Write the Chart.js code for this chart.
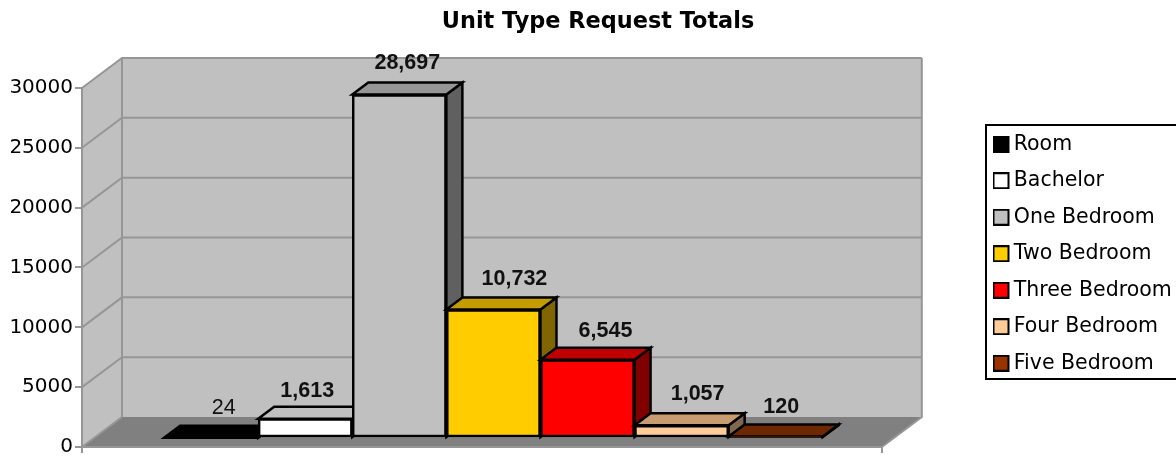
<!DOCTYPE html>
<html><head><meta charset="utf-8">
<style>html,body{margin:0;padding:0;background:#fff;overflow:hidden}canvas{display:block}</style>
<script src="https://cdn.jsdelivr.net/npm/chart.js@4"></script></head>
<body><canvas id="c" width="1176" height="458"></canvas>
<script>
const seriesNames = ["Room","Bachelor","One Bedroom","Two Bedroom","Three Bedroom","Four Bedroom","Five Bedroom"];
const seriesSlots = [0,1,2,3,4,5,6];
const seriesValues = [24,1613,28697,10732,6545,1057,120];
const seriesLabels = ["24","1,613","28,697","10,732","6,545","1,057","120"];
const labelBold = [false,true,true,true,true,true,true];
const labelNudgeX = [4.5,-6,0,13,10,8,-2.5];
const labelNudgeY = [-1,1,-3,-2,0,-2,-1];
const seriesColors = ["#000000","#ffffff","#c0c0c0","#ffcc00","#ff0000","#ffcc99","#993300"];
const topColors = ["#000000","#c0c0c0","#969696","#c49c00","#c00000","#c89c70","#6e2800"];
const sideColors = ["#000000","#808080","#606060","#806600","#800000","#806850","#4d1a00"];
const yTicks = [0,5000,10000,15000,20000,25000,30000];
const xMin=-1.245, xMax=7.255;
const wallColor="#c0c0c0", floorColor="#808080", gridColor="#969696";
const wallDepth={x:40,y:-30}, barDepth={x:16,y:-12}, barShift={x:12,y:-9};
const legendBox={left:986,top:125,bottom:379};
const titleCenter=598;

function swatch(fill){
  const s=document.createElement('canvas');s.width=21;s.height=17;
  const g=s.getContext('2d');g.fillStyle=fill;g.fillRect(1,1,15,15);
  g.strokeStyle='#000';g.lineWidth=2;g.strokeRect(1,1,15,15);return s;
}
function poly(ctx,pts,fill,stroke,lw){
  ctx.beginPath();pts.forEach((p,i)=>i?ctx.lineTo(p[0],p[1]):ctx.moveTo(p[0],p[1]));ctx.closePath();
  if(fill){ctx.fillStyle=fill;ctx.fill();}
  if(stroke){ctx.strokeStyle=stroke;ctx.lineWidth=lw;ctx.lineJoin='miter';ctx.stroke();}
}
const stage={id:'stage',
  afterLayout(chart){
    const t=chart.titleBlock, shift=titleCenter-(t.left+t.right)/2; t.left+=shift; t.right+=shift;
    const l=chart.legend, w=l.width, h=l.height;
    l.left=legendBox.left+0.5; l.right=l.left+w; l.top=legendBox.top-7; l.bottom=l.top+h;
  },
  beforeDraw(chart){
    const ctx=chart.ctx,a=chart.chartArea,y=chart.scales.y,d=wallDepth;
    const L=a.left,R=a.right,B=y.getPixelForValue(0),T=y.getPixelForValue(30000);
    ctx.save();
    poly(ctx,[[L+d.x,T+d.y],[R+d.x,T+d.y],[R+d.x,B+d.y],[L+d.x,B+d.y]],wallColor);
    poly(ctx,[[L,T],[L+d.x,T+d.y],[L+d.x,B+d.y],[L,B]],wallColor);
    poly(ctx,[[L,B],[R,B],[R+d.x,B+d.y],[L+d.x,B+d.y]],floorColor);
    ctx.strokeStyle=gridColor;ctx.lineWidth=2;
    yTicks.forEach(v=>{
      const p=y.getPixelForValue(v);
      ctx.beginPath();ctx.moveTo(L,p);ctx.lineTo(L+d.x,p+d.y);
      if(v>0)ctx.lineTo(R+d.x,p+d.y);ctx.stroke();
    });
    ctx.beginPath();ctx.moveTo(L+d.x,T+d.y);ctx.lineTo(L+d.x,B+d.y);ctx.stroke();
    ctx.beginPath();ctx.moveTo(R+d.x,T+d.y);ctx.lineTo(R+d.x,B+d.y);ctx.lineTo(R,B);ctx.stroke();
    ctx.restore();
    ctx.save();ctx.fillStyle='#fff';ctx.strokeStyle='#000';ctx.lineWidth=2;
    ctx.fillRect(legendBox.left,legendBox.top,300,legendBox.bottom-legendBox.top);
    ctx.strokeRect(legendBox.left,legendBox.top,300,legendBox.bottom-legendBox.top);ctx.restore();
  },
  beforeDatasetsDraw(chart){chart.ctx.save();chart.ctx.translate(barShift.x,barShift.y);},
  beforeDatasetDraw(chart,args){
    const i=args.index,b=args.meta.data[0],ctx=chart.ctx,d=barDepth;
    const l=b.x-b.width/2,r=b.x+b.width/2,t=b.y,bs=b.base;
    poly(ctx,[[r,t],[r+d.x,t+d.y],[r+d.x,bs+d.y],[r,bs]],sideColors[i],'#000',2.5);
    poly(ctx,[[l,t],[l+d.x,t+d.y],[r+d.x,t+d.y],[r,t]],topColors[i],'#000',2.5);
  },
  afterDatasetsDraw(chart){
    const ctx=chart.ctx;
    ctx.fillStyle='#000';ctx.textAlign='center';ctx.textBaseline='alphabetic';
    seriesLabels.forEach((s,i)=>{
      const b=chart.getDatasetMeta(i).data[0];
      ctx.font=(labelBold[i]?'bold ':'')+'21.5px "Liberation Sans"';
      ctx.fillStyle=labelBold[i]?'#111':'#111';
      ctx.fillText(s,b.x+barDepth.x/2+labelNudgeX[i],b.y+barDepth.y-11+labelNudgeY[i]);
    });
    ctx.restore();
  }
};
new Chart(document.getElementById('c'),{
  type:'bar',
  data:{datasets:seriesNames.map((n,i)=>({
    label:n,data:[{x:seriesSlots[i],y:seriesValues[i]}],backgroundColor:seriesColors[i],borderColor:'#000',
    borderWidth:2.5,borderSkipped:false,order:seriesNames.length-i,clip:false,grouped:false,
    categoryPercentage:1,barPercentage:1,pointStyle:swatch(seriesColors[i])
  }))},
  plugins:[stage],
  options:{
    responsive:false,animation:false,events:[],
    layout:{padding:{left:0,top:0,right:99,bottom:0}},
    scales:{
      x:{type:'linear',min:xMin,max:xMax,offset:false,
         afterBuildTicks(s){s.ticks=[{value:xMin},{value:xMax}];},
         grid:{offset:false,drawOnChartArea:false,drawTicks:true,tickLength:6,color:gridColor,lineWidth:2},
         border:{color:gridColor,width:2},ticks:{display:false},
         afterFit(s){s.height=11;s.paddingLeft=0;s.paddingRight=0;}},
      y:{min:0,max:30000,
         afterBuildTicks(s){s.ticks=yTicks.map(v=>({value:v}));},
         grid:{drawOnChartArea:false,drawTicks:true,tickLength:7,color:gridColor,lineWidth:2},
         border:{color:gridColor,width:2},
         ticks:{color:'#000',padding:2,font:{family:'"DejaVu Sans"',size:20},autoSkip:false,callback:v=>String(v)},
         afterFit(s){s.width=82;s.paddingTop=0;s.paddingBottom=0;}}
    },
    plugins:{
      tooltip:{enabled:false},
      title:{display:true,text:'Unit Type Request Totals',color:'#000',
        font:{family:'"DejaVu Sans"',size:22.4,weight:'bold'},padding:{top:9,bottom:52.1}},
      legend:{display:true,position:'right',align:'start',
        labels:{usePointStyle:true,pointStyleWidth:1,boxHeight:20,color:'#000',padding:16,
          font:{family:'"DejaVu Sans"',size:20.5},
          sort:(a,b)=>a.datasetIndex-b.datasetIndex}}
    }
  }
});
</script></body></html>
